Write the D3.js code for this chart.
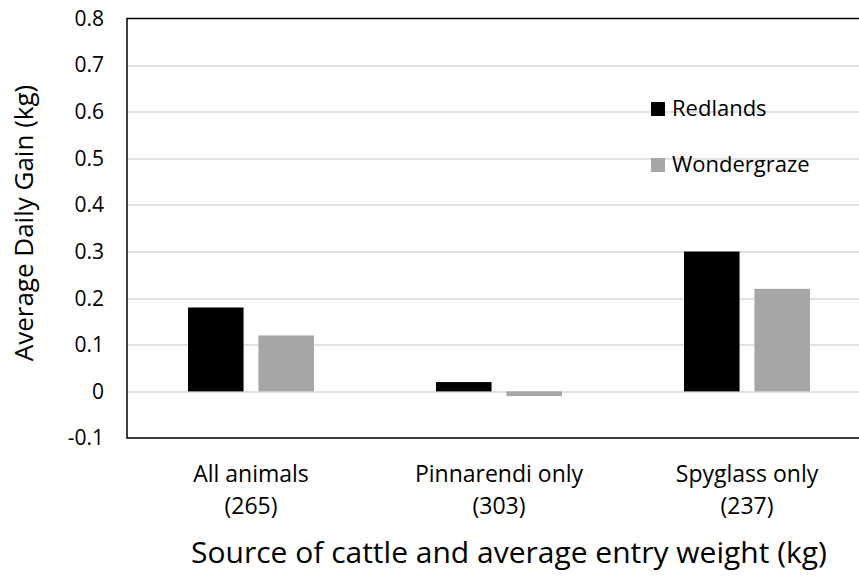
<!DOCTYPE html>
<html>
<head>
<meta charset="utf-8">
<script src="https://cdn.jsdelivr.net/npm/d3@7"></script>
<style>
  body { margin: 0; background: #fff; }
  text { font-family: "Open Sans", sans-serif; fill: #000; }
</style>
</head>
<body>
<svg width="859" height="577"></svg>
<script>
var categories = ["All animals|(265)", "Pinnarendi only|(303)", "Spyglass only|(237)"];
var seriesNames = ["Redlands", "Wondergraze"];
var redlands = [0.18, 0.02, 0.30];
var wondergraze = [0.12, -0.01, 0.22];
var yTicks = [-0.1, 0, 0.1, 0.2, 0.3, 0.4, 0.5, 0.6, 0.7, 0.8];
var colors = ["#000000", "#a6a6a6"];

var svg = d3.select("svg"),
    margin = {top: 18.5, left: 127, bottom: 139},
    plotW = 744,
    height = 577 - margin.top - margin.bottom,
    g = svg.append("g").attr("transform", "translate(" + margin.left + "," + margin.top + ")");

var data = categories.map(function(c, i) {
  return {cat: c, values: [redlands[i], wondergraze[i]]};
});

var x0 = d3.scaleBand()
  .domain(categories)
  .range([0, plotW])
  .paddingInner(0.492)
  .paddingOuter(0.246);

var x1 = d3.scaleBand()
  .domain(seriesNames)
  .range([0, x0.bandwidth()])
  .paddingInner(0.211);

var y = d3.scaleLinear()
  .domain([-0.1, 0.8])
  .range([height, 0]);

var z = d3.scaleOrdinal().domain(seriesNames).range(colors);

// gridlines
g.append("g")
  .selectAll("line")
  .data(yTicks.filter(function(t) { return t > -0.1 && t < 0.8; }))
  .enter().append("line")
  .attr("x1", 0)
  .attr("x2", plotW)
  .attr("y1", function(d) { return Math.round(y(d)) + 0.5; })
  .attr("y2", function(d) { return Math.round(y(d)) + 0.5; })
  .attr("stroke", "#d9d9d9")
  .attr("stroke-width", 1.5);

// bars
g.append("g")
  .selectAll("g")
  .data(data)
  .enter().append("g")
  .attr("transform", function(d) { return "translate(" + x0(d.cat) + ",0)"; })
  .selectAll("rect")
  .data(function(d) {
    return d.values.map(function(v, i) { return {key: seriesNames[i], value: v}; });
  })
  .enter().append("rect")
  .attr("x", function(d) { return x1(d.key); })
  .attr("y", function(d) { return y(Math.max(0, d.value)); })
  .attr("width", x1.bandwidth())
  .attr("height", function(d) { return Math.abs(y(d.value) - y(0)); })
  .attr("fill", function(d) { return z(d.key); });

// frame: left, top, bottom
g.append("path")
  .attr("d", "M" + plotW + ",0H0V" + height + "H" + plotW)
  .attr("fill", "none")
  .attr("stroke", "#000")
  .attr("stroke-width", 1.5);

// y tick labels
g.append("g")
  .selectAll("text")
  .data(yTicks)
  .enter().append("text")
  .attr("x", -23)
  .attr("y", function(d) { return y(d); })
  .attr("dy", "0.35em")
  .attr("text-anchor", "end")
  .attr("font-size", 21)
  .text(function(d) { return String(+d.toFixed(1)); });

// category labels
var catLabel = g.append("g")
  .selectAll("text")
  .data(categories)
  .enter().append("text")
  .attr("x", function(d) { return x0(d) + x0.bandwidth() / 2; })
  .attr("y", height + 44)
  .attr("text-anchor", "middle")
  .attr("font-size", 23);

catLabel.selectAll("tspan")
  .data(function(d) { return d.split("|"); })
  .enter().append("tspan")
  .attr("x", function() { return d3.select(this.parentNode).attr("x"); })
  .attr("dy", function(d, i) { return i ? 31.5 : 0; })
  .text(function(d) { return d; });

// axis titles
svg.append("text")
  .attr("x", 509)
  .attr("y", 563)
  .attr("text-anchor", "middle")
  .attr("font-size", 30)
  .text("Source of cattle and average entry weight (kg)");

svg.append("text")
  .attr("transform", "translate(33,223) rotate(-90)")
  .attr("text-anchor", "middle")
  .attr("font-size", 26)
  .text("Average Daily Gain (kg)");

// legend
var legend = svg.append("g")
  .selectAll("g")
  .data(seriesNames)
  .enter().append("g")
  .attr("transform", function(d, i) { return "translate(651," + (102 + i * 56) + ")"; });

legend.append("rect")
  .attr("width", 14)
  .attr("height", 14)
  .attr("fill", z);

legend.append("text")
  .attr("x", 21)
  .attr("y", 14)
  .attr("font-size", 22)
  .text(function(d) { return d; });
</script>
</body>
</html>
